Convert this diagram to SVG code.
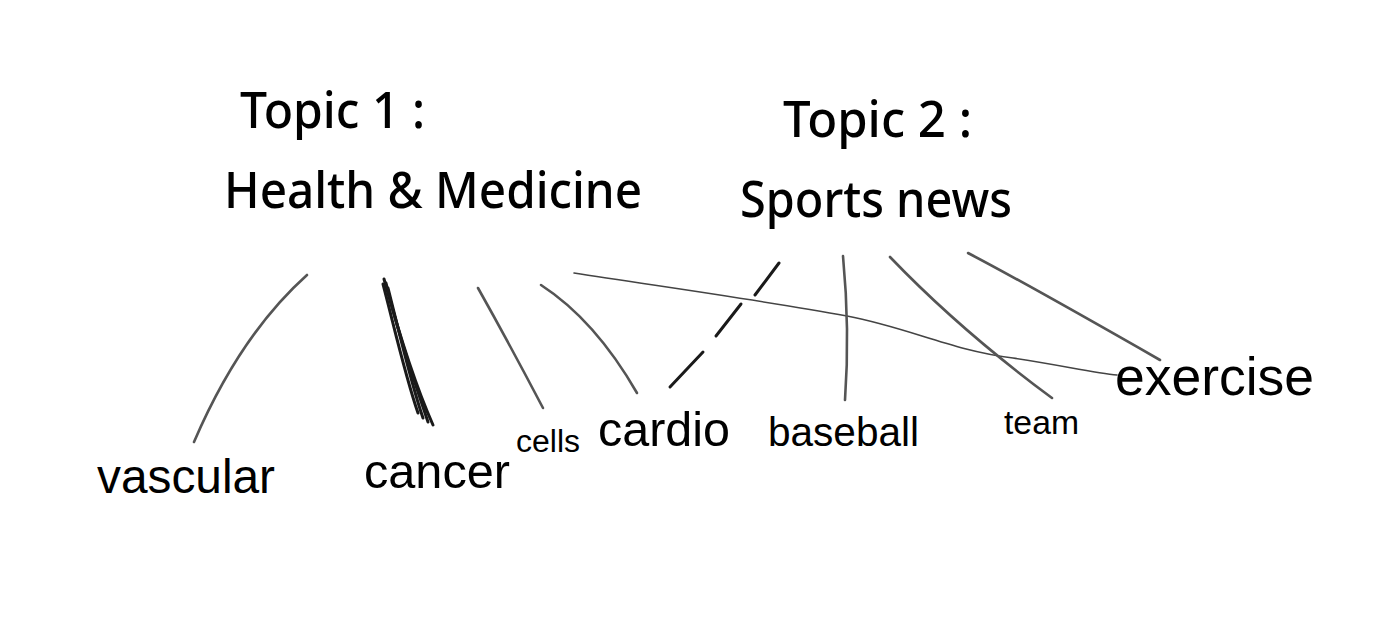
<svg xmlns="http://www.w3.org/2000/svg" width="1400" height="626" viewBox="0 0 1400 626">
<style>
.topic{font-family:"Comic Sans MS","Noto Sans",sans-serif;font-size:50px;fill:#000;font-weight:500}
.word{font-family:"Liberation Sans",Arial,sans-serif;fill:#000}
.ln{fill:none;stroke:#555;stroke-width:2.6;stroke-linecap:round;stroke-linejoin:round}
.dark{fill:none;stroke:#1a1a1a;stroke-width:3;stroke-linecap:round}
.thin{fill:none;stroke:#444;stroke-width:1.6;stroke-linecap:round}
</style>
<rect width="1400" height="626" fill="#fff"/>
<g id="topic1">
<text class="topic" x="240" y="128" textLength="185" lengthAdjust="spacingAndGlyphs">Topic 1 :</text>
<text class="topic" x="224" y="208" textLength="418" lengthAdjust="spacingAndGlyphs">Health &amp; Medicine</text>
</g>
<g id="topic2">
<text class="topic" x="783" y="137" textLength="189" lengthAdjust="spacingAndGlyphs">Topic 2 :</text>
<text class="topic" x="740" y="217" textLength="272" lengthAdjust="spacingAndGlyphs">Sports news</text>
</g>
<g id="vascular"><text class="word" x="97" y="493" font-size="48" textLength="178" lengthAdjust="spacingAndGlyphs">vascular</text></g>
<g id="cancer"><text class="word" x="364" y="488" font-size="48" textLength="146" lengthAdjust="spacingAndGlyphs">cancer</text></g>
<g id="cells"><text class="word" x="516" y="452" font-size="31" textLength="64" lengthAdjust="spacingAndGlyphs">cells</text></g>
<g id="cardio"><text class="word" x="598" y="446" font-size="48" textLength="132" lengthAdjust="spacingAndGlyphs">cardio</text></g>
<g id="baseball"><text class="word" x="768" y="446" font-size="40" textLength="151" lengthAdjust="spacingAndGlyphs">baseball</text></g>
<g id="team"><text class="word" x="1004" y="434" font-size="33" textLength="75" lengthAdjust="spacingAndGlyphs">team</text></g>
<g id="exercise"><text class="word" x="1115" y="395" font-size="53" textLength="199" lengthAdjust="spacingAndGlyphs">exercise</text></g>
<g id="connectors">
<path class="ln" d="M194,442 Q240,335 307,275"/>
<path class="dark" d="M384,279 C398,330 415,385 433,425"/>
<path class="dark" d="M388,288 C400,335 410,380 423,418"/>
<path class="dark" d="M383,284 C395,330 405,375 418,413"/>
<path class="dark" d="M386,283 C396,325 412,375 428,422" stroke="#444"/>
<path class="ln" d="M478,288 Q510,345 543,408"/>
<path class="ln" d="M541,285 Q595,320 637,393"/>
<g class="dark" stroke-width="3.6">
<path d="M670,387 L703,352"/>
<path d="M716,336 L741,304"/>
<path d="M755,295 L779,263"/>
</g>
<path class="thin" d="M574,273 C650,285 760,300 847,316 C910,328 950,350 1013,358 C1060,365 1095,373 1117,375"/>
<path class="ln" d="M843,256 Q850,330 845,400"/>
<path class="ln" d="M890,257 Q960,330 1052,398"/>
<path class="ln" d="M968,253 Q1020,280 1160,360"/>
</g>
</svg>
